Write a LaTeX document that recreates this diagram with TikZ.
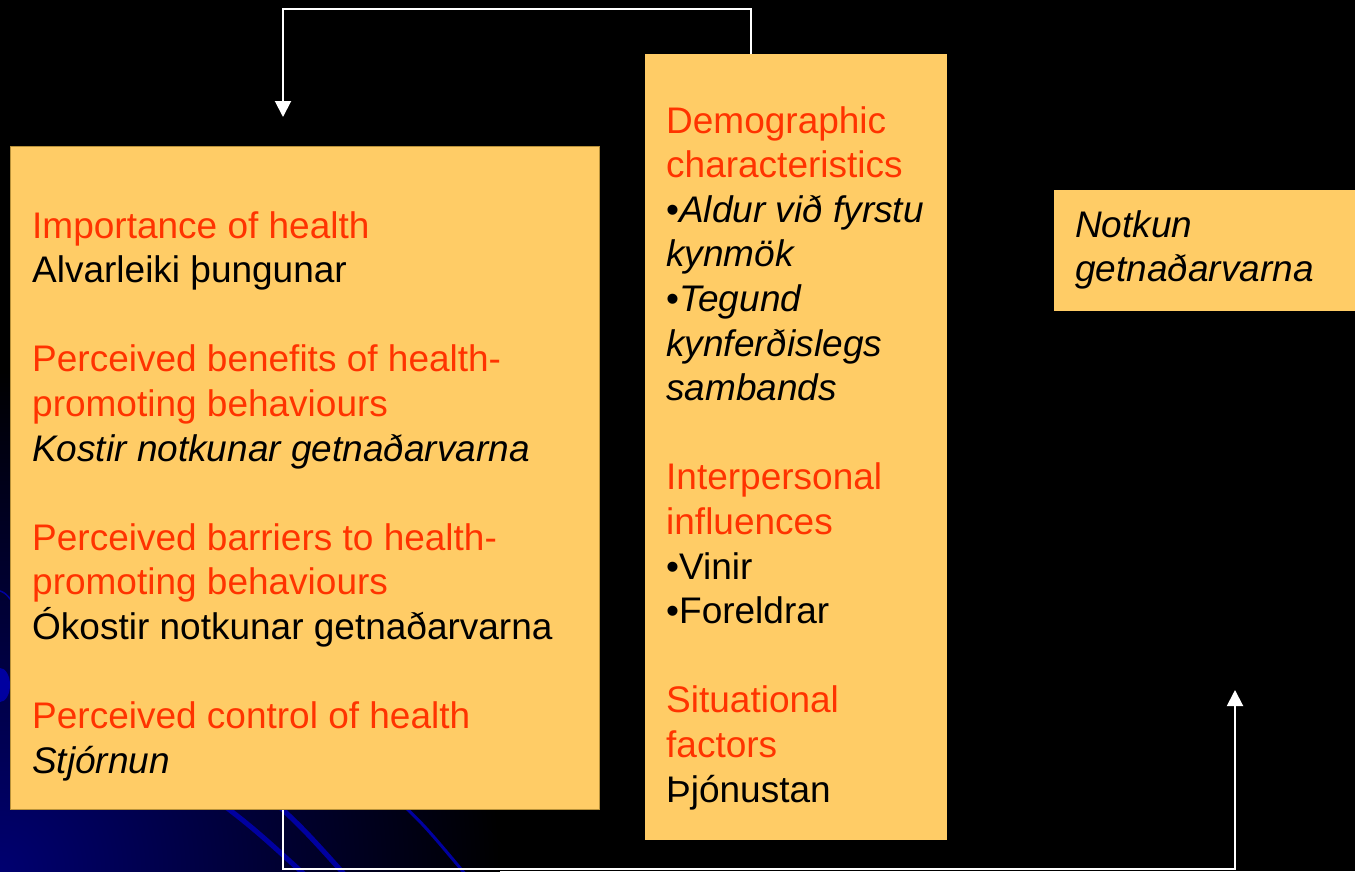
\documentclass[tikz,border=0pt]{standalone}
\usepackage{fontspec}
\setmainfont{Liberation Sans}
\usetikzlibrary{arrows.meta}
\definecolor{boxfill}{HTML}{FFCC66}
\definecolor{boxedge}{HTML}{B8913A}
\definecolor{labelred}{HTML}{FF3300}
\definecolor{swirl}{HTML}{0000A0}
\definecolor{deepblue}{HTML}{000070}
\newcommand{\hd}[1]{\textcolor{labelred}{#1}}
\begin{document}
\begin{tikzpicture}[x=1pt,y=-1pt,
    box/.style={fill=boxfill,inner sep=0pt,anchor=north west},
    txt/.style={align=left,inner sep=0pt,anchor=north west,
      font=\fontsize{37pt}{44.6pt}\selectfont},
    conn/.style={draw=white,line width=2pt,-{Triangle[width=16pt,length=16pt]}}]
  \useasboundingbox (0,0) rectangle (1355,871);
  % background
  \fill[black] (0,0) rectangle (1355,871);
  \begin{scope}
    \clip (0,0) rectangle (1355,871);
    \shade[inner color=deepblue,outer color=black] (0,871) circle (500);
    \draw[swirl,line width=5pt] (190,780) .. controls (250,825) .. (305,875);
    \draw[swirl,line width=5pt] (250,780) .. controls (300,825) .. (345,875);
    \draw[swirl,line width=3pt] (375,780) .. controls (420,820) .. (466,875);
    \draw[swirl,line width=1.5pt] (-10,588) .. controls (5,592) .. (14,604);
    \fill[swirl] (0,685) ellipse (10 and 17);
  \end{scope}
  % boxes
  \node[box,draw=boxedge,line width=1pt,minimum width=589,minimum height=663] (factors) at (10,146) {};
  \node[box,minimum width=302,minimum height=786] (demo) at (645,54) {};
  \node[box,minimum width=301,minimum height=121] (outcome) at (1054,190) {};
  % texts
  \node[txt] (factorstxt) at (32,211) {\hd{Importance of health}\\
    Alvarleiki þungunar\\[44.6pt]
    \hd{Perceived benefits of health-}\\
    \hd{promoting behaviours}\\
    \textit{Kostir notkunar getnaðarvarna}\\[44.6pt]
    \hd{Perceived barriers to health-}\\
    \hd{promoting behaviours}\\
    Ókostir notkunar getnaðarvarna\\[44.6pt]
    \hd{Perceived control of health}\\
    \textit{Stjórnun}};
  \node[txt] (demotxt) at (666,106) {\hd{Demographic}\\
    \hd{characteristics}\\
    •\textit{Aldur við fyrstu}\\
    \textit{kynmök}\\
    •\textit{Tegund}\\
    \textit{kynferðislegs}\\
    \textit{sambands}\\[44.6pt]
    \hd{Interpersonal}\\
    \hd{influences}\\
    •Vinir\\
    •Foreldrar\\[44.6pt]
    \hd{Situational}\\
    \hd{factors}\\
    Þjónustan};
  \node[txt] (outcometxt) at (1075,210) {\textit{Notkun}\\
    \textit{getnaðarvarna}};
  % connectors
  \coordinate (intop) at (283,117);
  \coordinate (inout) at (1235,690);
  \draw[conn] ([xshift=106pt]demo.north west) |- ([yshift=108pt]intop) -- (intop);
  \draw[conn] ([xshift=273pt]factors.south west) |- ([yshift=-179pt]inout) -- (inout);
\end{tikzpicture}
\end{document}
